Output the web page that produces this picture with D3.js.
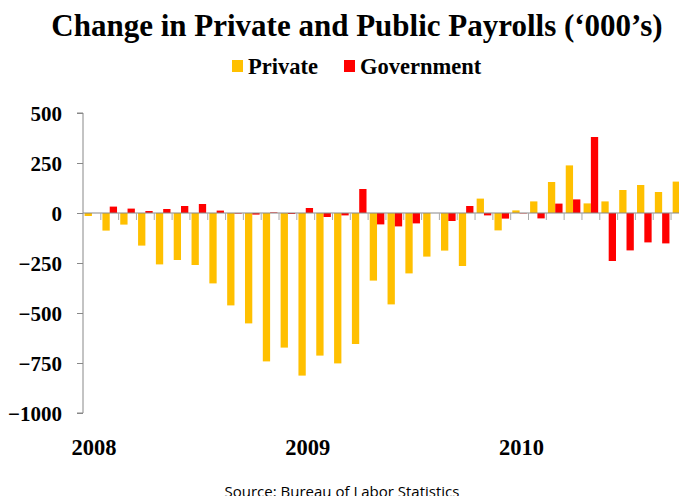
<!DOCTYPE html>
<html>
<head>
<meta charset="utf-8">
<script src="https://cdn.jsdelivr.net/npm/d3@7"></script>
<style>
  body { margin: 0; background: #fff; }
  svg { display: block; }
</style>
</head>
<body>
<div id="chart"></div>
<script>
// monthly change, Jan 2008 .. Oct 2010 (thousands)
var months = d3.range(34).map(function(i){ return i; });
var privateJobs = [-15, -88, -58, -163, -257, -235, -260, -352, -462, -552, -742, -673,
                   -813, -713, -752, -655, -338, -457, -302, -218, -188, -265, 72, -87,
                   13, 58, 155, 238, 48, 58, 115, 140, 105, 157];
var govJobs = [0, 32, 22, 10, 20, 35, 45, 12, -3, -8, 3, -5,
               25, -20, -12, 120, -57, -67, -52, 0, -40, 35, -12, -28,
               -2, -27, 47, 68, 380, -240, -187, -147, -152, -8];
var seriesNames = ['Private', 'Government'];
var seriesColors = ['#ffc000', '#ff0000'];
var yTicks = [500, 250, 0, -250, -500, -750, -1000];
var yearLabels = [{ month: 0, text: '2008' }, { month: 12, text: '2009' }, { month: 24, text: '2010' }];

var W = 679, H = 496;
var svg = d3.select('#chart').append('svg')
    .attr('width', W)
    .attr('height', H);

var left = 83, step = 17.82;
var x = d3.scaleBand()
    .domain(months)
    .range([left, left + step * months.length])
    .padding(0);
var x1 = d3.scaleBand()
    .domain(seriesNames)
    .range([0, x.bandwidth()])
    .paddingInner(0)
    .paddingOuter(0.22);
var y = d3.scaleLinear()
    .domain([-1000, 500])
    .range([413, 113]);

var serif = '"Liberation Serif", "Times New Roman", serif';

// title
svg.append('text')
    .attr('x', 357).attr('y', 36)
    .attr('text-anchor', 'middle')
    .style('font-family', serif)
    .style('font-weight', 'bold')
    .style('font-size', '31px')
    .text('Change in Private and Public Payrolls (\u2018000\u2019s)');

// legend
var legend = svg.append('g').attr('transform', 'translate(232,0)');
var legendX = [0, 112];
seriesNames.forEach(function(name, i){
    var g = legend.append('g').attr('transform', 'translate(' + legendX[i] + ',0)');
    g.append('rect')
        .attr('x', 0).attr('y', 60)
        .attr('width', 11).attr('height', 12)
        .attr('fill', seriesColors[i]);
    g.append('text')
        .attr('x', 16).attr('y', 74)
        .style('font-family', serif)
        .style('font-weight', 'bold')
        .style('font-size', '22.5px')
        .text(name);
});

// y axis
var yAxis = d3.axisLeft(y)
    .tickValues(yTicks)
    .tickSize(6)
    .tickFormat(d3.format('d'));
var gy = svg.append('g')
    .attr('transform', 'translate(' + left + ',0)')
    .call(yAxis);
gy.select('.domain').attr('stroke', '#888').attr('d', 'M-6,' + y(500) + 'H0V' + y(-1000) + 'H-6');
gy.selectAll('.tick line').attr('stroke', '#888');
gy.selectAll('.tick text')
    .attr('x', -21)
    .attr('dy', '0.36em')
    .style('font-family', serif)
    .style('font-weight', 'bold')
    .style('font-size', '21px')
    .attr('fill', '#000');

// bars
var data = months.map(function(m){
    return { month: m, values: [privateJobs[m], govJobs[m]] };
});
var groups = svg.append('g').selectAll('g')
    .data(data)
    .join('g')
    .attr('transform', function(d){ return 'translate(' + x(d.month) + ',0)'; });
groups.selectAll('rect')
    .data(function(d){ return d.values.map(function(v, i){ return { name: seriesNames[i], v: v, i: i }; }); })
    .join('rect')
    .attr('x', function(d){ return x1(d.name); })
    .attr('width', x1.bandwidth())
    .attr('y', function(d){ return y(Math.max(0, d.v)); })
    .attr('height', function(d){ return Math.abs(y(d.v) - y(0)); })
    .attr('fill', function(d){ return seriesColors[d.i]; });

// zero line with category ticks
var xAxis = d3.axisBottom(x)
    .tickSize(0)
    .tickFormat('');
var gx = svg.append('g')
    .attr('transform', 'translate(0,' + y(0) + ')')
    .call(xAxis);
gx.select('.domain').attr('stroke', '#888').attr('d', 'M' + left + ',0H' + (left + step * months.length));
gx.selectAll('.tick').remove();
gx.selectAll('.cat-tick')
    .data(months.slice(1))
    .join('line')
    .attr('class', 'cat-tick')
    .attr('x1', function(m){ return x(m); })
    .attr('x2', function(m){ return x(m); })
    .attr('y1', 0).attr('y2', 7)
    .attr('stroke', '#aaa');

// year labels
svg.selectAll('.year')
    .data(yearLabels)
    .join('text')
    .attr('class', 'year')
    .attr('x', function(d){ return x(d.month) + x.bandwidth() / 2 + 2; })
    .attr('y', 455)
    .attr('text-anchor', 'middle')
    .style('font-family', serif)
    .style('font-weight', 'bold')
    .style('font-size', '22.5px')
    .text(function(d){ return d.text; });

// source note
svg.append('text')
    .attr('x', 342).attr('y', 497)
    .attr('text-anchor', 'middle')
    .style('font-family', '"Open Sans", "Liberation Sans", sans-serif')
    .style('font-size', '15px')
    .text('Source: Bureau of Labor Statistics');
</script>
</body>
</html>
